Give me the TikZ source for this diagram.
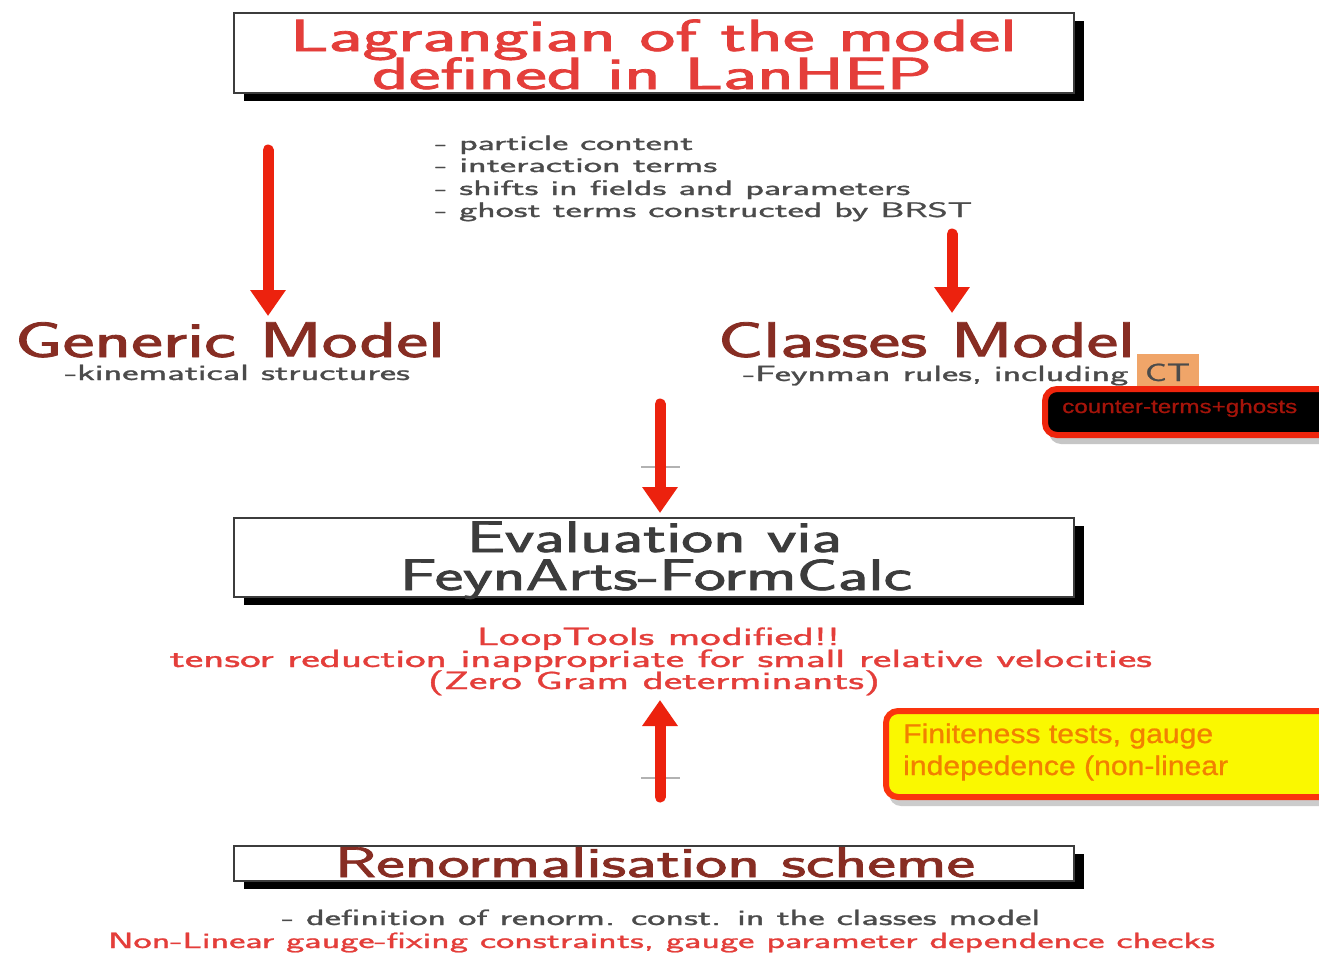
\documentclass[tikz,border=0pt]{standalone}
\usepackage{fontspec}
\usepackage{graphicx}
\usetikzlibrary{arrows.meta,shadows}
\newfontfamily\helv[FakeBold=0.8]{Liberation Sans}
\newfontfamily\bigss[FakeBold=1.6]{Latin Modern Sans}
\newfontfamily\smallss[FakeBold=1.0]{Latin Modern Sans}
\newcommand{\fitw}[2]{\resizebox{#1}{\height}{#2}}
\newcommand{\fs}[1]{\fontsize{#1}{#1}\selectfont}
\definecolor{titlered}{RGB}{228,62,58}
\definecolor{brownred}{RGB}{135,45,35}
\definecolor{darktxt}{RGB}{60,60,60}
\definecolor{graytxt}{RGB}{75,75,75}
\definecolor{arrred}{RGB}{236,34,14}
\definecolor{ctorange}{RGB}{240,165,105}
\definecolor{ctred}{RGB}{238,36,12}
\definecolor{cttxt}{RGB}{165,20,10}
\definecolor{yelfill}{RGB}{250,248,0}
\definecolor{yelborder}{RGB}{250,52,14}
\definecolor{yeltxt}{RGB}{242,128,0}
\tikzset{
  txt/.style={inner sep=0pt, anchor=base, font=\bigss},
  stxt/.style={inner sep=0pt, anchor=base, font=\smallss},
  stxtw/.style={inner sep=0pt, anchor=base west, font=\smallss},
  mainbox/.style={draw=darktxt, line width=2pt, fill=white, inner sep=0pt,
    drop shadow={shadow xshift=10pt, shadow yshift=-8pt, fill=black, opacity=1}},
  bigarrow/.style={draw=arrred, line width=11pt, line cap=round,
    -{Triangle[width=34pt,length=26pt]}, fill=arrred},
  ghosttick/.style={draw=gray!60, line width=1.2pt},
}
\begin{document}
\begin{tikzpicture}[x=1pt,y=-1pt]
\useasboundingbox (0,0) rectangle (1319,953);
\clip (0,0) rectangle (1319,953);
\fill[white] (0,0) rectangle (1319,953);

% ---------- top box ----------
\node[mainbox, minimum width=840pt, minimum height=80pt] (lag) at (654,52.5) {};
\node[txt, text=titlered] (lag1) at (653.5,51) {\fitw{727pt}{\fs{45}Lagrangian of the model}};
\node[txt, text=titlered] (lag2) at (652,89) {\fitw{560pt}{\fs{45}defined in LanHEP}};

% ---------- bullet list ----------
\node[stxtw, text=graytxt] (b1) at (435,150) {\fitw{258pt}{\fs{21}- particle content}};
\node[stxtw, text=graytxt] (b2) at (435,172) {\fitw{282pt}{\fs{21}- interaction terms}};
\node[stxtw, text=graytxt] (b3) at (435,195) {\fitw{475pt}{\fs{21}- shifts in fields and parameters}};
\node[stxtw, text=graytxt] (b4) at (435,217) {\fitw{537pt}{\fs{21}- ghost terms constructed by BRST}};

% ---------- Generic / Classes ----------
\node[txt, text=brownred] (gen) at (230,357) {\fitw{430pt}{\fs{50}Generic Model}};
\node[stxt, text=graytxt] (gensub) at (237.5,380) {\fitw{345pt}{\fs{22}-kinematical structures}};
\node[txt, text=brownred] (cls) at (926.5,357) {\fitw{417pt}{\fs{50}Classes Model}};
\node[stxtw, text=graytxt] (clssub) at (743,381) {\fitw{385pt}{\fs{22}-Feynman rules, including}};
\node[fill=ctorange, minimum width=62pt, minimum height=32pt, inner sep=0pt] (ctbox) at (1168,370) {};
\node[stxt, text=graytxt] (ct) at (1167.5,381) {\fitw{45pt}{\fs{25}CT}};

% counter-terms box
\fill[gray!45, rounded corners=12pt] (1049,394) rectangle (1345,444);
\node[draw=ctred, line width=6pt, fill=black, rounded corners=12pt,
  minimum width=292pt, minimum height=46pt, inner sep=0pt] (ctg) at (1191,412) {};
\node[inner sep=0pt, anchor=base west, text=cttxt, font=\helv] (ctgt) at (1062,413) {\fitw{235pt}{\fs{19}counter-terms+ghosts}};

% ---------- Evaluation box ----------
\node[mainbox, minimum width=840pt, minimum height=79pt] (eval) at (654,557.5) {};
\node[txt, text=darktxt] (ev1) at (654.5,552) {\fitw{375pt}{\fs{44}Evaluation via}};
\node[txt, text=darktxt] (ev2) at (656,590) {\fitw{512pt}{\fs{44}FeynArts-FormCalc}};

% LoopTools text
\node[stxt, text=titlered] (lt1) at (658.5,645) {\fitw{363pt}{\fs{25}LoopTools modified!!}};
\node[stxt, text=titlered] (lt2) at (661,667) {\fitw{982pt}{\fs{25}tensor reduction inappropriate for small relative velocities}};
\node[stxt, text=titlered] (lt3) at (654,689) {\fitw{452pt}{\fs{25}(Zero Gram determinants)}};

% yellow box
\fill[gray!40, rounded corners=12pt] (889,716) rectangle (1345,806);
\node[draw=yelborder, line width=6pt, fill=yelfill, rounded corners=12pt,
  minimum width=446pt, minimum height=86pt, inner sep=0pt] (fin) at (1109,754) {};
\node[inner sep=0pt, anchor=base west, text=yeltxt, font=\helv] (fin1) at (903,743) {\fitw{310pt}{\fs{27}Finiteness tests, gauge}};
\node[inner sep=0pt, anchor=base west, text=yeltxt, font=\helv] (fin2) at (903,775) {\fitw{325pt}{\fs{27}indepedence (non-linear}};

% ---------- Renormalisation box ----------
\node[mainbox, minimum width=840pt, minimum height=35pt] (ren) at (654,863) {};
\node[txt, text=brownred] (ren1) at (655,877) {\fitw{640pt}{\fs{43}Renormalisation scheme}};
\node[stxt, text=graytxt] (ren2) at (661,925) {\fitw{758pt}{\fs{22}- definition of renorm. const. in the classes model}};
\node[stxt, text=titlered] (ren3) at (661.5,948) {\fitw{1107pt}{\fs{22}Non-Linear gauge-fixing constraints, gauge parameter dependence checks}};

% ---------- arrows ----------
\coordinate (a1s) at (268,150);
\coordinate (a1e) at (268,316);
\coordinate (a2s) at (952,234);
\coordinate (a2e) at (952,313);
\coordinate (a3s) at (660,404);
\coordinate (a3e) at (660,513);
\coordinate (a4s) at (660,797);
\coordinate (a4e) at (660,700);
\coordinate (t3l) at (641,467);
\coordinate (t3r) at (680,467);
\coordinate (t4l) at (641,778);
\coordinate (t4r) at (680,778);
\draw[ghosttick] (t3l) -- (t3r);
\draw[ghosttick] (t4l) -- (t4r);
\draw[bigarrow] (a1s) -- (a1e);
\draw[bigarrow] (a2s) -- (a2e);
\draw[bigarrow] (a3s) -- (a3e);
\draw[bigarrow] (a4s) -- (a4e);
\end{tikzpicture}
\end{document}
